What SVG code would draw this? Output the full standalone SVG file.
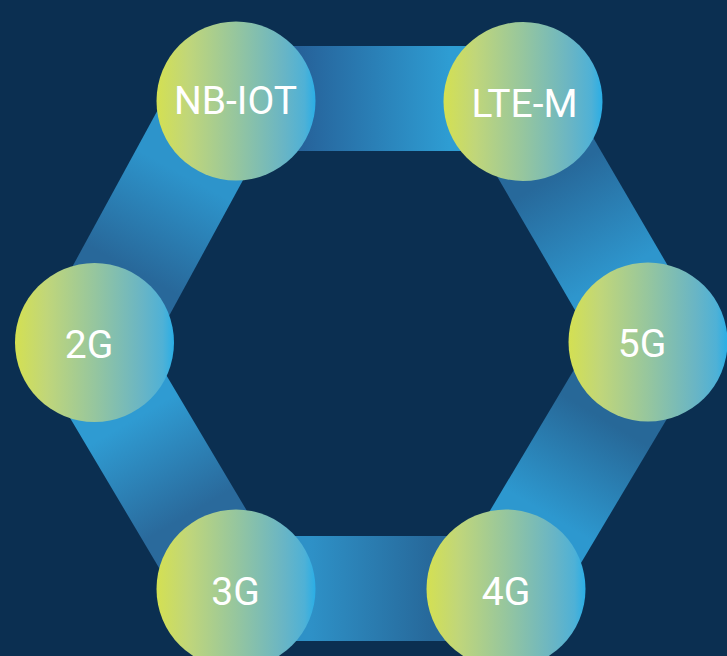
<svg xmlns="http://www.w3.org/2000/svg" width="727" height="656" viewBox="0 0 727 656">
  <defs>
    <linearGradient id="node" x1="0" y1="0" x2="1" y2="0">
      <stop offset="0" stop-color="#d4e052"/>
      <stop offset="0.2" stop-color="#c0d67a"/>
      <stop offset="0.5" stop-color="#96c69e"/>
      <stop offset="0.8" stop-color="#69b5c5"/>
      <stop offset="0.93" stop-color="#4fb1d6"/>
      <stop offset="1" stop-color="#2aaee6"/>
    </linearGradient>
    <linearGradient id="gTop" gradientUnits="userSpaceOnUse" x1="300" y1="0" x2="450" y2="0">
      <stop offset="0" stop-color="#26629a"/>
      <stop offset="1" stop-color="#2e9dd3"/>
    </linearGradient>
    <linearGradient id="gUR" gradientUnits="userSpaceOnUse" x1="556" y1="175" x2="614" y2="275">
      <stop offset="0" stop-color="#27699b"/>
      <stop offset="1" stop-color="#2e96cd"/>
    </linearGradient>
    <linearGradient id="gLR" gradientUnits="userSpaceOnUse" x1="605" y1="420" x2="548" y2="515">
      <stop offset="0" stop-color="#276898"/>
      <stop offset="1" stop-color="#2d98cf"/>
    </linearGradient>
    <linearGradient id="gBot" gradientUnits="userSpaceOnUse" x1="430" y1="0" x2="310" y2="0">
      <stop offset="0" stop-color="#27699b"/>
      <stop offset="1" stop-color="#2e91c7"/>
    </linearGradient>
    <linearGradient id="gLL" gradientUnits="userSpaceOnUse" x1="188" y1="515" x2="132" y2="420">
      <stop offset="0" stop-color="#2a6a9c"/>
      <stop offset="1" stop-color="#2f9bd2"/>
    </linearGradient>
    <linearGradient id="gUL" gradientUnits="userSpaceOnUse" x1="132" y1="270" x2="184" y2="175">
      <stop offset="0" stop-color="#28689a"/>
      <stop offset="1" stop-color="#2d94cb"/>
    </linearGradient>
  </defs>
  <style>
    .lbl { font-family: Roboto, "Liberation Sans", sans-serif; font-size: 39px; fill: #ffffff; text-anchor: middle; }
  </style>
  <rect x="0" y="0" width="727" height="656" fill="#0b2f51"/>
  <g id="connectors">
    <rect x="236" y="46" width="287" height="105" fill="url(#gTop)"/>
    <polygon points="453.1,101 571.8,101 712.3,342 593.6,342" fill="url(#gUR)"/>
    <polygon points="590.5,342 712.7,342 565.5,589 443.3,589" fill="url(#gLR)"/>
    <rect x="236" y="536" width="270" height="105" fill="url(#gBot)"/>
    <polygon points="24.9,342 146.6,342 293.3,589 171.6,589" fill="url(#gLL)"/>
    <polygon points="163.2,100 286.7,100 154.8,342 31.3,342" fill="url(#gUL)"/>
  </g>
  <g id="node-nbiot">
    <circle cx="236" cy="101" r="79.5" fill="url(#node)"/>
    <text class="lbl" x="235.5" y="114">NB-IOT</text>
  </g>
  <g id="node-ltem">
    <circle cx="523" cy="101.5" r="79.5" fill="url(#node)"/>
    <text class="lbl" x="524.5" y="117">LTE-M</text>
  </g>
  <g id="node-5g">
    <circle cx="648" cy="342" r="79.5" fill="url(#node)"/>
    <text class="lbl" x="642" y="357">5G</text>
  </g>
  <g id="node-4g">
    <circle cx="506" cy="589" r="79.5" fill="url(#node)"/>
    <text class="lbl" x="506" y="605">4G</text>
  </g>
  <g id="node-3g">
    <circle cx="236" cy="589" r="79.5" fill="url(#node)"/>
    <text class="lbl" x="235.5" y="605">3G</text>
  </g>
  <g id="node-2g">
    <circle cx="94.5" cy="342.5" r="79.5" fill="url(#node)"/>
    <text class="lbl" x="89" y="358">2G</text>
  </g>
</svg>
